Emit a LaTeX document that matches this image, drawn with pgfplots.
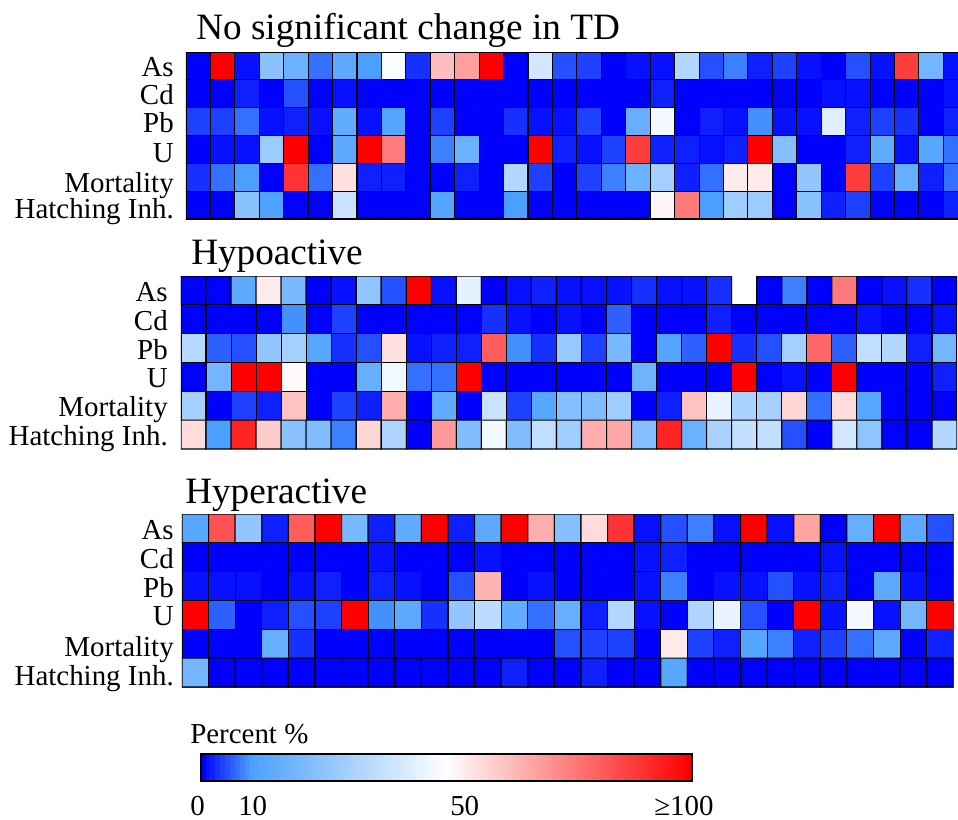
\documentclass[border=0pt]{standalone}
\usepackage{pgfplots}
\pgfplotsset{compat=1.18}
\usepackage{fontspec}
\setmainfont{Liberation Serif}
\pgfplotsset{
  colormap={bwr}{rgb255(0cm)=(0,0,255) rgb255(1cm)=(75,160,255) rgb255(5cm)=(255,255,255) rgb255(10cm)=(255,0,0)},
  hm/.style={
    scale only axis, anchor=north west,
    colormap name=bwr, point meta min=0, point meta max=100,
    y dir=reverse, ymin=-0.5, ymax=5.5, xtick=\empty,
    yticklabels={As,Cd,Pb,U,Mortality,Hatching Inh.},
    major tick length=0pt,
    tick label style={font=\fontsize{21.7pt}{21.7pt}\selectfont},
    y tick label style={inner xsep=0pt, inner ysep=0pt, anchor=base east, yshift=-8.25pt},
    axis line style={draw=black!60,line width=0.5pt},
  },
  cells/.style={matrix plot*, draw=black, line width=0.8pt, point meta=explicit},
}
\begin{document}
\begin{tikzpicture}[x=0.75pt,y=0.75pt]
\useasboundingbox (0,0) rectangle (958,-819);
\begin{axis}[hm, at={(139.5pt,-39pt)}, width=579pt, height=125.25pt, xmin=-0.5, xmax=31.1,
  ytick={0,1,2,3.07,4.14,5.07}, y tick label style={xshift=-9pt}]
\addplot[cells, mesh/cols=32] table[row sep=\\, header=false, meta index=0, x expr={mod(\coordindex,32)}, y expr={floor(\coordindex/32)}] {
0\\100\\1\\24\\17\\7\\14\\10\\49\\3\\63\\69\\100\\0\\40\\5\\4\\0\\1\\1\\33\\5\\8\\2\\4\\1\\0\\5\\1\\88\\19\\1\\
0\\0\\2\\0\\5\\0\\1\\0\\0\\0\\0\\0\\0\\0\\0\\0\\0\\0\\0\\2\\0\\0\\0\\0\\0\\0\\1\\1\\0\\0\\0\\1\\
4\\4\\7\\1\\2\\1\\15\\1\\12\\0\\4\\0\\0\\3\\1\\1\\4\\0\\16\\47\\0\\2\\1\\9\\1\\1\\43\\2\\4\\3\\0\\2\\
0\\1\\1\\28\\100\\0\\14\\100\\76\\0\\8\\17\\0\\0\\100\\2\\1\\4\\88\\2\\2\\1\\2\\100\\23\\0\\0\\2\\15\\1\\13\\7\\
3\\7\\10\\0\\90\\7\\56\\2\\2\\0\\0\\2\\0\\33\\4\\0\\4\\8\\17\\30\\2\\7\\54\\54\\0\\26\\0\\88\\4\\16\\2\\7\\
0\\0\\24\\11\\0\\0\\38\\0\\0\\0\\12\\0\\0\\10\\0\\0\\0\\0\\0\\52\\76\\10\\29\\28\\0\\24\\2\\4\\0\\0\\0\\2\\
};
\end{axis}
\begin{axis}[hm, at={(135.75pt,-207pt)}, width=582pt, height=129.75pt, xmin=-0.5, xmax=30.5,
  ytick={0,1,2,3,4,5}, y tick label style={xshift=-9.75pt}, axis line style={draw=none}]
\addplot[cells, mesh/cols=31] table[row sep=\\, header=false, meta index=0, x expr={mod(\coordindex,31)}, y expr={floor(\coordindex/31)}] {
0\\0\\14\\54\\20\\0\\1\\25\\5\\100\\1\\44\\0\\1\\2\\1\\1\\1\\3\\1\\1\\3\\nan\\0\\8\\0\\76\\0\\1\\3\\0\\
0\\0\\0\\0\\9\\0\\4\\0\\0\\0\\0\\0\\3\\1\\0\\1\\0\\6\\0\\0\\0\\2\\0\\0\\0\\0\\0\\1\\0\\0\\1\\
34\\6\\5\\26\\30\\13\\3\\5\\56\\1\\2\\2\\82\\9\\3\\27\\4\\20\\0\\12\\6\\100\\3\\5\\30\\80\\6\\36\\33\\2\\19\\
0\\19\\100\\100\\51\\0\\0\\16\\47\\7\\7\\100\\0\\0\\0\\0\\0\\0\\18\\0\\0\\0\\100\\0\\1\\0\\100\\0\\0\\0\\2\\
30\\0\\4\\2\\62\\0\\4\\2\\66\\0\\15\\0\\38\\4\\13\\23\\22\\29\\0\\2\\62\\45\\31\\30\\58\\7\\57\\13\\0\\0\\0\\
57\\10\\93\\60\\24\\22\\8\\58\\32\\0\\70\\22\\47\\22\\36\\29\\66\\67\\23\\93\\17\\31\\37\\37\\5\\0\\40\\25\\0\\0\\33\\
};
\end{axis}
\begin{axis}[hm, at={(136.5pt,-385.5pt)}, width=578.5pt, height=129.75pt, xmin=-0.5, xmax=28.5,
  ytick={0,1,2,3,4.05,5.05}, y tick label style={xshift=-6pt}]
\addplot[cells, mesh/cols=29] table[row sep=\\, header=false, meta index=0, x expr={mod(\coordindex,29)}, y expr={floor(\coordindex/29)}] {
13\\84\\26\\2\\82\\100\\20\\2\\15\\100\\2\\14\\100\\66\\23\\57\\90\\1\\5\\8\\1\\100\\1\\68\\0\\16\\100\\14\\5\\
0\\0\\0\\0\\0\\0\\0\\1\\0\\0\\0\\1\\0\\0\\0\\0\\0\\1\\2\\0\\0\\0\\0\\0\\1\\0\\0\\0\\0\\
1\\1\\1\\0\\1\\2\\0\\2\\1\\0\\5\\65\\0\\1\\0\\0\\0\\1\\8\\0\\1\\1\\5\\1\\2\\0\\14\\1\\0\\
100\\6\\0\\2\\5\\4\\100\\9\\14\\3\\26\\35\\15\\7\\16\\2\\33\\1\\0\\32\\45\\5\\0\\100\\1\\47\\1\\19\\100\\
0\\0\\0\\16\\3\\0\\0\\0\\0\\0\\0\\0\\0\\0\\5\\4\\4\\0\\54\\4\\2\\12\\8\\2\\4\\7\\14\\0\\2\\
19\\0\\0\\0\\0\\0\\0\\0\\0\\0\\0\\0\\2\\0\\0\\2\\0\\0\\13\\0\\0\\0\\0\\0\\0\\0\\0\\0\\0\\
};
\end{axis}
\begin{axis}[scale only axis, anchor=north west, at={(150.75pt,-565.5pt)}, width=368.25pt, height=20.25pt,
  xmin=-0.5, xmax=100.5, ymin=-0.5, ymax=1.5, xtick=\empty, ytick=\empty, colormap name=bwr, axis on top,
  point meta min=0, point meta max=100, axis line style={draw=black,line width=1pt}]
\addplot[matrix plot*, shader=flat corner, mesh/cols=101, point meta=explicit] table[row sep=\\, header=false, meta index=0, x expr={mod(\coordindex,101)}, y expr={floor(\coordindex/101)}] {
0\\1\\2\\3\\4\\5\\6\\7\\8\\9\\10\\11\\12\\13\\14\\15\\16\\17\\18\\19\\20\\21\\22\\23\\24\\25\\26\\27\\28\\29\\30\\31\\32\\33\\34\\35\\36\\37\\38\\39\\40\\41\\42\\43\\44\\45\\46\\47\\48\\49\\50\\51\\52\\53\\54\\55\\56\\57\\58\\59\\60\\61\\62\\63\\64\\65\\66\\67\\68\\69\\70\\71\\72\\73\\74\\75\\76\\77\\78\\79\\80\\81\\82\\83\\84\\85\\86\\87\\88\\89\\90\\91\\92\\93\\94\\95\\96\\97\\98\\99\\100\\
0\\1\\2\\3\\4\\5\\6\\7\\8\\9\\10\\11\\12\\13\\14\\15\\16\\17\\18\\19\\20\\21\\22\\23\\24\\25\\26\\27\\28\\29\\30\\31\\32\\33\\34\\35\\36\\37\\38\\39\\40\\41\\42\\43\\44\\45\\46\\47\\48\\49\\50\\51\\52\\53\\54\\55\\56\\57\\58\\59\\60\\61\\62\\63\\64\\65\\66\\67\\68\\69\\70\\71\\72\\73\\74\\75\\76\\77\\78\\79\\80\\81\\82\\83\\84\\85\\86\\87\\88\\89\\90\\91\\92\\93\\94\\95\\96\\97\\98\\99\\100\\
};
\end{axis}
\tikzset{lab/.style={font=\fontsize{21.7pt}{21.7pt}\selectfont, inner sep=0pt, anchor=base west}}
\tikzset{ttl/.style={font=\fontsize{27.9pt}{27.9pt}\selectfont, inner sep=0pt, anchor=base west}}
\node[ttl] at (196,-39) {No significant change in TD};
\node[ttl] at (191,-264) {Hypoactive};
\node[ttl] at (185,-503) {Hyperactive};
\node[lab] at (190,-743) {Percent \%};
\node[lab] at (190,-815) {0};
\node[lab] at (238,-815) {10};
\node[lab] at (450,-815) {50};
\node[lab] at (654,-815) {≥100};
\end{tikzpicture}
\end{document}
